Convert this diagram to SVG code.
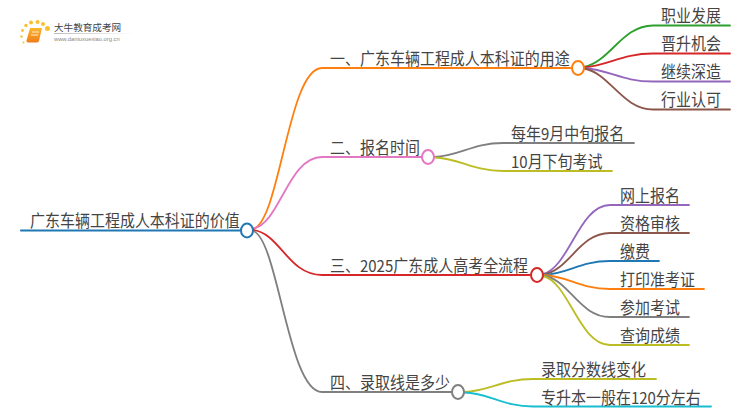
<svg xmlns="http://www.w3.org/2000/svg" width="750" height="410" viewBox="0 0 750 410">
<defs><linearGradient id="bk" x1="0" y1="0" x2="0" y2="1"><stop offset="0" stop-color="#fbb62a"/><stop offset="1" stop-color="#ee7d1c"/></linearGradient>
<linearGradient id="rule" x1="0" y1="0" x2="1" y2="0"><stop offset="0" stop-color="#bbb"/><stop offset="1" stop-color="#fff"/></linearGradient></defs>
<style>
text{font-family:"Noto Sans CJK SC","Liberation Sans",sans-serif;font-size:15px;fill:#444}
.c{fill:none;stroke-width:1.800;stroke-linecap:round}
.n{fill:#fff;stroke-width:2}
.dot{fill:#fbc02d}
</style>
<rect width="750" height="410" fill="#fff"/>
<g id="logo">
<g class="dots"><circle class="dot" cx="47.500" cy="28.500" r="2.500"/><circle class="dot" cx="43" cy="24" r="2"/><circle class="dot" cx="37.500" cy="22" r="2"/><circle class="dot" cx="31" cy="22.500" r="2"/><circle class="dot" cx="26" cy="25.500" r="1.700"/><circle class="dot" cx="22.500" cy="30.500" r="1.400"/><circle class="dot" cx="21.500" cy="36.500" r="1.200"/><circle class="dot" cx="23.500" cy="42.500" r="1"/></g>
<path d="M30 28h12l-3 13q-.5 1.500-2 1.500h-9q-2 0-1.500-2z" fill="url(#bk)"/><path d="M32 32h7M31 35h7" stroke="#fff" stroke-width="1" opacity=".8"/>
<text x="54" y="31" style="font-size:9.600px">大牛教育成考网</text>
<rect x="54" y="33" width="80" height="1" fill="url(#rule)"/>
<text x="54" y="41" style="font-size:5.800px;fill:#888;font-family:'Liberation Sans',sans-serif">www.daniuxuexiao.org.cn</text>
</g>
<g id="connectors">
<path class="c" stroke="#1f78b4" style="stroke-width:2.200" d="M21 230.500H241"/>
<path class="c" stroke="#ff7f0e" d="M253 229C280 222 288 68 322 68H572"/>
<path class="c" stroke="#e377c2" d="M253 228.500C280 224 288 157 322 157H422"/>
<path class="c" stroke="#d62728" d="M253 230C280 233 288 275 322 275H531"/>
<path class="c" stroke="#7f7f7f" d="M253 231C278 238 288 392 322 392H452"/>
<path class="c" stroke="#2ca02c" d="M584 67C610 62 622 25.500 653 25.500H730"/>
<path class="c" stroke="#d62728" d="M584 67.500C610 65 622 53.500 653 53.500H730"/>
<path class="c" stroke="#9467bd" d="M584 68C610 70 622 81.500 653 81.500H730"/>
<path class="c" stroke="#8c564b" d="M584 68.500C610 73 622 109.500 653 109.500H730"/>
<path class="c" stroke="#7f7f7f" d="M434 157C460 156 472 143 503 143H634"/>
<path class="c" stroke="#bcbd22" d="M434 157.500C460 158 472 171 503 171H612"/>
<path class="c" stroke="#9467bd" d="M543 274C569 268 579 205 610 205H689"/>
<path class="c" stroke="#8c564b" d="M543 274.500C569 271 579 233 610 233H689"/>
<path class="c" stroke="#1f78b4" d="M543 275C569 274 579 261 610 261H659"/>
<path class="c" stroke="#ff7f0e" d="M543 275C569 276 579 289 610 289H704"/>
<path class="c" stroke="#7f7f7f" d="M543 275.500C569 279 579 317 610 317H689"/>
<path class="c" stroke="#bcbd22" d="M543 276C569 282 579 345 610 345H689"/>
<path class="c" stroke="#bcbd22" d="M464 392C490 391 502 379 533 379H656"/>
<path class="c" stroke="#17becf" d="M464 392.500C490 393 502 406.500 533 406.500H711"/>
</g>
<g id="root"><text transform="translate(30 227) scale(1 1.1)">广东车辆工程成人本科证的价值</text><ellipse class="n" stroke="#1f78b4" cx="247" cy="230.500" rx="6" ry="7"/></g>
<g id="b1"><text transform="translate(330 65) scale(1 1.1)">一、广东车辆工程成人本科证的用途</text><ellipse class="n" stroke="#ff7f0e" cx="578" cy="68" rx="6" ry="7"/></g>
<g id="b2"><text transform="translate(330 154) scale(1 1.1)">二、报名时间</text><ellipse class="n" stroke="#e377c2" cx="428" cy="157" rx="6" ry="7"/></g>
<g id="b3"><text transform="translate(330 272) scale(1 1.1)">三、2025广东成人高考全流程</text><ellipse class="n" stroke="#d62728" cx="537" cy="275" rx="6" ry="7"/></g>
<g id="b4"><text transform="translate(330 389) scale(1 1.1)">四、录取线是多少</text><ellipse class="n" stroke="#7f7f7f" cx="458" cy="392" rx="6" ry="7"/></g>
<g id="l1"><text transform="translate(661 22) scale(1 1.1)">职业发展</text></g>
<g id="l2"><text transform="translate(661 50) scale(1 1.1)">晋升机会</text></g>
<g id="l3"><text transform="translate(661 78) scale(1 1.1)">继续深造</text></g>
<g id="l4"><text transform="translate(661 106) scale(1 1.1)">行业认可</text></g>
<g id="l5"><text transform="translate(511 140) scale(1 1.1)">每年9月中旬报名</text></g>
<g id="l6"><text transform="translate(511 168) scale(1 1.1)">10月下旬考试</text></g>
<g id="l7"><text transform="translate(620 202) scale(1 1.1)">网上报名</text></g>
<g id="l8"><text transform="translate(620 230) scale(1 1.1)">资格审核</text></g>
<g id="l9"><text transform="translate(620 258) scale(1 1.1)">缴费</text></g>
<g id="l10"><text transform="translate(620 286) scale(1 1.1)">打印准考证</text></g>
<g id="l11"><text transform="translate(620 314) scale(1 1.1)">参加考试</text></g>
<g id="l12"><text transform="translate(620 342) scale(1 1.1)">查询成绩</text></g>
<g id="l13"><text transform="translate(541 376) scale(1 1.1)">录取分数线变化</text></g>
<g id="l14"><text transform="translate(541 404) scale(1 1.1)">专升本一般在120分左右</text></g>
</svg>
